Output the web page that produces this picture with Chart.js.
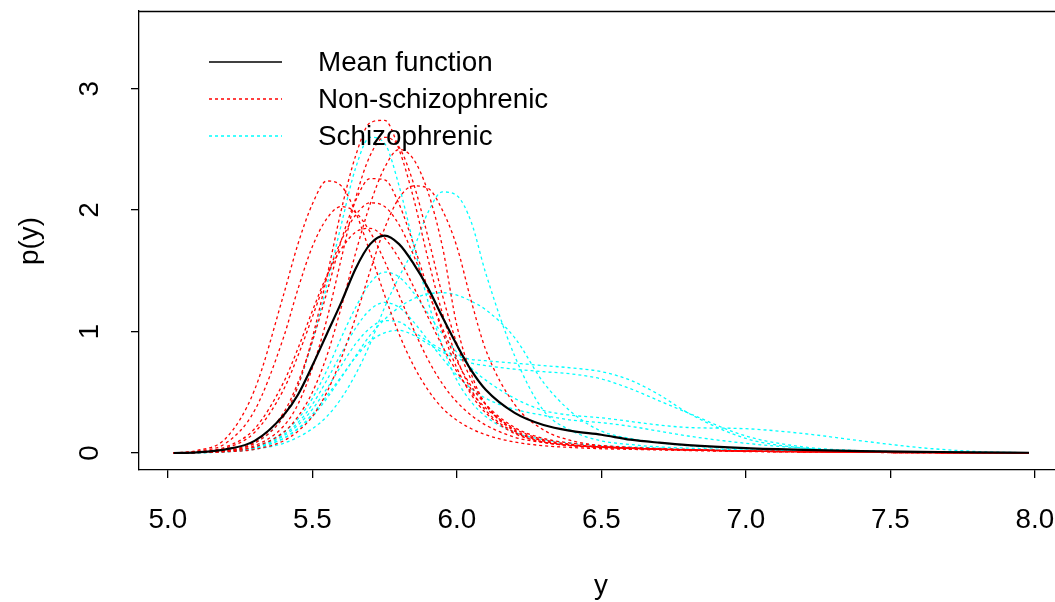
<!DOCTYPE html>
<html>
<head>
<meta charset="utf-8">
<script src="https://cdn.jsdelivr.net/npm/chart.js@4.4.0/dist/chart.umd.min.js"></script>
<style>
  html, body { margin: 0; padding: 0; background: #fff; }
  #wrap { width: 1055px; height: 602px; }
</style>
</head>
<body>
<div id="wrap"><canvas id="density" width="1055" height="602"></canvas></div>
<script>
"use strict";

const xs = [5.02, 5.1, 5.2, 5.3, 5.4, 5.45, 5.5, 5.55, 5.6, 5.65, 5.7, 5.75, 5.8, 5.85, 5.9, 5.95,
            6.0, 6.05, 6.1, 6.2, 6.3, 6.4, 6.5, 6.6, 6.7, 6.8, 7.0, 7.2, 7.4, 7.6, 7.8, 7.98];

const meanFn = [0, 0.005, 0.03, 0.10, 0.31, 0.48, 0.72, 0.98, 1.24, 1.52, 1.72, 1.79, 1.72, 1.56, 1.36, 1.12,
                0.89, 0.68, 0.52, 0.33, 0.23, 0.18, 0.15, 0.11, 0.085, 0.065, 0.04, 0.025, 0.015, 0.01, 0.005, 0.002];

// non-schizophrenic curves
const red1 = [0, 0.02, 0.12, 0.52, 1.3, 1.72, 2.05, 2.24, 2.2, 1.98, 1.65, 1.3, 0.98, 0.72, 0.52, 0.37,
              0.27, 0.2, 0.15, 0.09, 0.06, 0.045, 0.035, 0.03, 0.025, 0.02, 0.012, 0.008, 0.005, 0.003, 0.001, 0];
const red2 = [0, 0.015, 0.08, 0.35, 0.95, 1.35, 1.7, 1.93, 2.03, 1.98, 1.82, 1.58, 1.3, 1.02, 0.77, 0.57,
              0.42, 0.31, 0.23, 0.13, 0.085, 0.06, 0.05, 0.04, 0.03, 0.025, 0.015, 0.01, 0.006, 0.003, 0.001, 0];
const red3 = [0, 0.005, 0.02, 0.08, 0.3, 0.55, 0.95, 1.45, 2.0, 2.45, 2.72, 2.74, 2.5, 2.1, 1.6, 1.15,
              0.78, 0.52, 0.35, 0.17, 0.09, 0.06, 0.045, 0.035, 0.03, 0.025, 0.015, 0.01, 0.006, 0.003, 0.001, 0];
const red4 = [0, 0.005, 0.015, 0.05, 0.17, 0.3, 0.5, 0.8, 1.2, 1.65, 2.05, 2.35, 2.5, 2.42, 2.15, 1.7,
              1.05, 0.65, 0.4, 0.18, 0.1, 0.065, 0.05, 0.04, 0.03, 0.025, 0.015, 0.01, 0.006, 0.003, 0.001, 0];
const red5 = [0, 0.003, 0.01, 0.03, 0.1, 0.18, 0.3, 0.5, 0.78, 1.12, 1.5, 1.85, 2.1, 2.2, 2.18, 2.0,
              1.7, 1.25, 0.85, 0.4, 0.19, 0.1, 0.06, 0.045, 0.035, 0.028, 0.018, 0.012, 0.007, 0.004, 0.002, 0];
const red6 = [0, 0.005, 0.02, 0.09, 0.33, 0.58, 0.92, 1.32, 1.75, 2.08, 2.26, 2.25, 2.05, 1.72, 1.35, 1.0,
              0.7, 0.48, 0.33, 0.16, 0.09, 0.06, 0.045, 0.035, 0.03, 0.025, 0.015, 0.01, 0.006, 0.003, 0.001, 0];
const red7 = [0, 0.008, 0.04, 0.17, 0.52, 0.8, 1.12, 1.45, 1.75, 1.96, 2.06, 2.03, 1.88, 1.63, 1.33, 1.03,
              0.76, 0.55, 0.4, 0.21, 0.12, 0.08, 0.06, 0.045, 0.035, 0.028, 0.018, 0.012, 0.007, 0.004, 0.002, 0];
const red8 = [0, 0.004, 0.015, 0.06, 0.22, 0.4, 0.7, 1.1, 1.6, 2.1, 2.45, 2.6, 2.52, 2.22, 1.78, 1.3,
              0.9, 0.6, 0.4, 0.19, 0.1, 0.065, 0.05, 0.04, 0.032, 0.026, 0.016, 0.01, 0.006, 0.003, 0.001, 0];
const red9 = [0, 0.01, 0.05, 0.2, 0.58, 0.86, 1.17, 1.46, 1.68, 1.82, 1.85, 1.77, 1.6, 1.37, 1.12, 0.88,
              0.67, 0.5, 0.37, 0.2, 0.11, 0.07, 0.05, 0.04, 0.032, 0.026, 0.016, 0.01, 0.006, 0.003, 0.001, 0];

// schizophrenic curves
const cyan1 = [0, 0.005, 0.02, 0.08, 0.3, 0.55, 0.92, 1.38, 1.88, 2.35, 2.6, 2.55, 2.2, 1.72, 1.25, 0.88,
               0.6, 0.42, 0.3, 0.17, 0.11, 0.08, 0.06, 0.05, 0.04, 0.03, 0.02, 0.012, 0.007, 0.004, 0.002, 0];
const cyan2 = [0, 0.003, 0.01, 0.03, 0.08, 0.13, 0.2, 0.3, 0.45, 0.65, 0.9, 1.2, 1.45, 1.68, 1.98, 2.15,
               2.12, 1.9, 1.48, 0.8, 0.35, 0.18, 0.1, 0.07, 0.05, 0.04, 0.025, 0.015, 0.008, 0.004, 0.002, 0];
const cyan3 = [0, 0.003, 0.015, 0.05, 0.17, 0.28, 0.45, 0.68, 0.95, 1.2, 1.4, 1.49, 1.45, 1.32, 1.15, 0.98,
               0.83, 0.7, 0.6, 0.45, 0.35, 0.31, 0.29, 0.26, 0.23, 0.21, 0.2, 0.16, 0.1, 0.045, 0.012, 0.002];
const cyan4 = [0, 0.003, 0.012, 0.04, 0.12, 0.2, 0.3, 0.45, 0.62, 0.8, 0.97, 1.1, 1.2, 1.27, 1.31, 1.32,
               1.3, 1.25, 1.18, 0.95, 0.58, 0.33, 0.18, 0.12, 0.085, 0.06, 0.035, 0.02, 0.01, 0.005, 0.002, 0];
const cyan5 = [0, 0.002, 0.01, 0.04, 0.14, 0.23, 0.36, 0.53, 0.72, 0.9, 1.03, 1.09, 1.08, 1.0, 0.92, 0.85,
               0.8, 0.77, 0.76, 0.74, 0.72, 0.7, 0.67, 0.6, 0.48, 0.33, 0.12, 0.04, 0.015, 0.006, 0.002, 0];
const cyan6 = [0, 0.002, 0.01, 0.035, 0.12, 0.2, 0.32, 0.47, 0.63, 0.79, 0.92, 0.99, 1.01, 0.97, 0.9, 0.83,
               0.78, 0.74, 0.72, 0.69, 0.67, 0.65, 0.61, 0.53, 0.43, 0.33, 0.14, 0.05, 0.018, 0.007, 0.002, 0];
const cyan7 = [0, 0.003, 0.012, 0.045, 0.15, 0.25, 0.4, 0.6, 0.82, 1.03, 1.18, 1.24, 1.2, 1.08, 0.93, 0.78,
               0.64, 0.53, 0.45, 0.36, 0.31, 0.27, 0.25, 0.22, 0.18, 0.14, 0.08, 0.04, 0.018, 0.008, 0.003, 0];

const nonSchizo = [red1, red2, red3, red4, red5, red6, red7, red8, red9];
const schizo = [cyan1, cyan2, cyan3, cyan4, cyan5, cyan6, cyan7];

const xTicks = [5.0, 5.5, 6.0, 6.5, 7.0, 7.5, 8.0];
const yTicks = [0, 1, 2, 3];
const legendLabels = ["Mean function", "Non-schizophrenic", "Schizophrenic"];

const FONT = "'Liberation Sans', Arial, sans-serif";
const FONT_SIZE = 27.8;
const toPoints = (ys) => xs.map((x, i) => ({ x: x, y: ys[i] }));

const curve = (ys, color, width, dash) => ({
    data: toPoints(ys),
    borderColor: color,
    borderWidth: width,
    borderDash: dash,
    pointRadius: 0,
    fill: false,
    cubicInterpolationMode: 'monotone'
});

const datasets = [curve(meanFn, '#000000', 2.2, [])];
nonSchizo.forEach(ys => datasets.push(curve(ys, '#ff0000', 1.3, [3, 3])));
schizo.forEach(ys => datasets.push(curve(ys, '#00ffff', 1.3, [3, 3])));

// R-style extras: top border, rotated y labels, axis titles, legend
const rDecor = {
    id: 'rDecor',
    afterDraw(chart) {
        const ctx = chart.ctx;
        const area = chart.chartArea;
        const yScale = chart.scales.y;
        ctx.save();
        ctx.strokeStyle = '#000';
        ctx.lineWidth = 1.3;
        ctx.beginPath();
        ctx.moveTo(area.left, area.top + 0.5);
        ctx.lineTo(area.right, area.top + 0.5);
        ctx.stroke();

        ctx.fillStyle = '#000';
        ctx.font = FONT_SIZE + 'px ' + FONT;
        ctx.textAlign = 'center';
        ctx.textBaseline = 'middle';
        yTicks.forEach(v => {
            ctx.save();
            ctx.translate(90, yScale.getPixelForValue(v));
            ctx.rotate(-Math.PI / 2);
            ctx.fillText(String(v), 0, 0);
            ctx.restore();
        });

        ctx.save();
        ctx.translate(30, 241);
        ctx.rotate(-Math.PI / 2);
        ctx.fillText('p(y)', 0, 0);
        ctx.restore();

        ctx.textBaseline = 'alphabetic';
        ctx.fillText('y', 601, 594);

        // legend
        const rows = [62, 99, 136];
        const styles = [['#000000', []], ['#ff0000', [3, 3]], ['#00ffff', [3, 3]]];
        ctx.lineWidth = 1.3;
        rows.forEach((ry, i) => {
            ctx.strokeStyle = styles[i][0];
            ctx.setLineDash(styles[i][1]);
            ctx.beginPath();
            ctx.moveTo(209, ry);
            ctx.lineTo(282, ry);
            ctx.stroke();
        });
        ctx.setLineDash([]);
        ctx.textAlign = 'left';
        ctx.textBaseline = 'middle';
        rows.forEach((ry, i) => ctx.fillText(legendLabels[i], 318, ry + 1));
        ctx.restore();
    }
};

new Chart(document.getElementById('density'), {
    type: 'line',
    data: { datasets: datasets },
    options: {
        responsive: false,
        animation: false,
        events: [],
        layout: { padding: { top: 11, right: 0, left: 0, bottom: 0 } },
        plugins: { legend: { display: false }, tooltip: { enabled: false } },
        scales: {
            x: {
                type: 'linear',
                min: 4.9,
                max: 8.07,
                afterBuildTicks: s => { s.ticks = xTicks.map(v => ({ value: v })); },
                afterFit: s => { s.height = 132; s.paddingLeft = 0; s.paddingRight = 0; },
                ticks: {
                    autoSkip: false,
                    maxRotation: 0,
                    padding: 26,
                    color: '#000',
                    font: { family: FONT, size: FONT_SIZE },
                    callback: v => Number(v).toFixed(1)
                },
                grid: { drawOnChartArea: false, drawTicks: true, tickLength: 8, color: '#000', lineWidth: 1.3 },
                border: { display: true, color: '#000', width: 1.3 }
            },
            y: {
                type: 'linear',
                min: -0.14,
                max: 3.64,
                afterBuildTicks: s => { s.ticks = yTicks.map(v => ({ value: v })); },
                afterFit: s => { s.width = 139; s.paddingTop = 0; s.paddingBottom = 0; },
                ticks: { display: false },
                grid: { drawOnChartArea: false, drawTicks: true, tickLength: 8, color: '#000', lineWidth: 1.3 },
                border: { display: true, color: '#000', width: 1.3 }
            }
        }
    },
    plugins: [rDecor]
});
</script>
</body>
</html>
